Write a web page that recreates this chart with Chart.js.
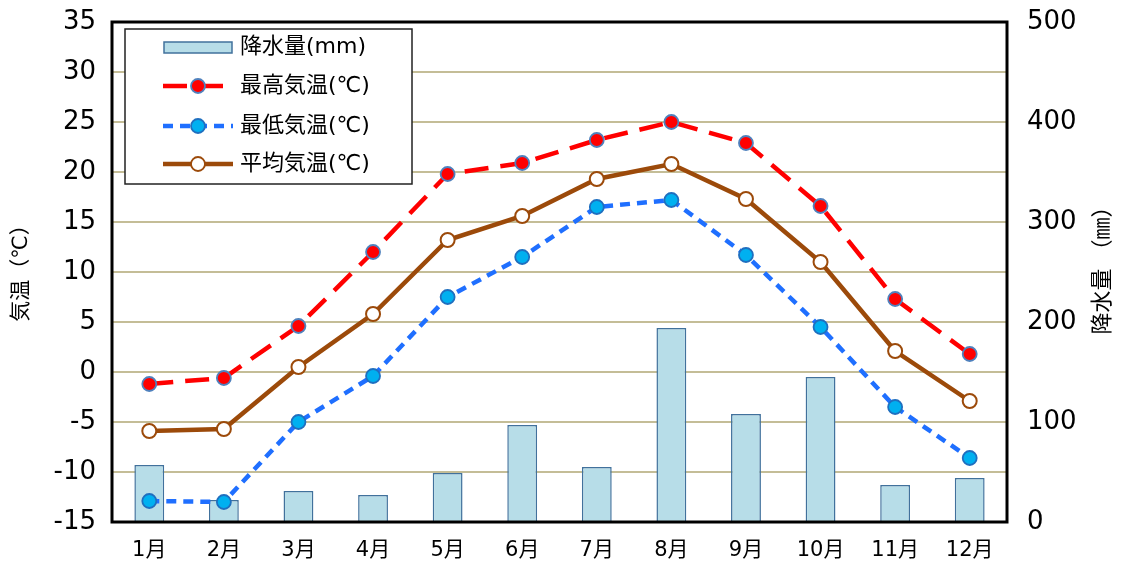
<!DOCTYPE html>
<html>
<head>
<meta charset="utf-8">
<script src="https://cdn.jsdelivr.net/npm/chart.js@4.4.1/dist/chart.umd.min.js"></script>
<style>
  html, body { margin: 0; padding: 0; background: #fff; }
  #wrap { width: 1124px; height: 564px; position: relative; }
</style>
</head>
<body>
<div id="wrap"><canvas id="myChart" width="1124" height="564"></canvas></div>
<script>
// data
var months = ['1月', '2月', '3月', '4月', '5月', '6月', '7月', '8月', '9月', '10月', '11月', '12月'];
var rain = [57, 22, 31, 27, 49, 97, 55, 194, 108, 145, 37, 44];
var maxTemp = [-1.2, -0.6, 4.6, 12.0, 19.8, 20.9, 23.2, 25.0, 22.9, 16.6, 7.3, 1.8];
var minTemp = [-12.9, -13.0, -5.0, -0.4, 7.5, 11.5, 16.5, 17.2, 11.7, 4.5, -3.5, -8.6];
var avgTemp = [-5.9, -5.7, 0.5, 5.8, 13.2, 15.6, 19.3, 20.8, 17.3, 11.0, 2.1, -2.9];

var FONT = "'DejaVu Sans', 'Noto Sans CJK JP', sans-serif";

// legend, frame and axis titles drawn by hand
var extras = {
    id: 'extras',
    afterDatasetsDraw: function(chart) {
        var c = chart.ctx, a = chart.chartArea;
        c.save();
        c.strokeStyle = '#000';
        c.lineWidth = 3;
        c.strokeRect(a.left, a.top, a.right - a.left, a.bottom - a.top);
        c.restore();
    },
    afterDraw: function(chart) {
        var c = chart.ctx;
        c.save();
        // axis titles
        c.fillStyle = '#000';
        c.font = '21px ' + FONT;
        c.textAlign = 'center';
        c.textBaseline = 'middle';
        c.save(); c.translate(22, 268); c.rotate(-Math.PI / 2); c.fillText('気温（℃）', 0, 0); c.restore();
        c.font = '22px ' + FONT;
        c.save(); c.translate(1103, 265); c.rotate(-Math.PI / 2); c.fillText('降水量 （㎜）', 0, 0); c.restore();

        // legend box
        c.fillStyle = '#fff';
        c.fillRect(125, 29, 287, 155);
        c.strokeStyle = '#222';
        c.lineWidth = 1.5;
        c.strokeRect(125, 29, 287, 155);

        // bar sample
        c.fillStyle = '#b7dde8';
        c.fillRect(164, 42, 68, 11);
        c.strokeStyle = '#41719c';
        c.lineWidth = 1.5;
        c.strokeRect(164, 42, 68, 11);

        var rows = [
            { y: 86, color: '#ff0000', dash: [24, 12], fill: '#ff0000', border: '#4f81bd' },
            { y: 126, color: '#1f6fff', dash: [10, 7], fill: '#00b0f0', border: '#1f6fbf' },
            { y: 164, color: '#9c4a0a', dash: [], fill: '#ffffff', border: '#9c4a0a' }
        ];
        rows.forEach(function(r) {
            c.strokeStyle = r.color;
            c.lineWidth = 4.5;
            c.setLineDash(r.dash);
            c.beginPath(); c.moveTo(163, r.y); c.lineTo(233, r.y); c.stroke();
            c.setLineDash([]);
            c.beginPath(); c.arc(198, r.y, 7, 0, Math.PI * 2);
            c.fillStyle = r.fill; c.fill();
            c.lineWidth = 1.8; c.strokeStyle = r.border; c.stroke();
        });

        c.fillStyle = '#000';
        c.font = '22px ' + FONT;
        c.textAlign = 'left';
        c.textBaseline = 'middle';
        c.fillText('降水量(mm)', 240, 47);
        c.fillText('最高気温(℃)', 240, 86);
        c.fillText('最低気温(℃)', 240, 126);
        c.fillText('平均気温(℃)', 240, 164);
        c.restore();
    }
};

function fitY(w) {
    return function(s) {
        s.width = w;
        s.paddingTop = 0;
        s.paddingBottom = 0;
    };
}

var ctx = document.getElementById('myChart').getContext('2d');

var myChart = new Chart(ctx, {
    data: {
        labels: months,
        datasets: [{
            type: 'line',
            label: '最高気温(℃)',
            data: maxTemp,
            yAxisID: 'y',
            borderColor: '#ff0000',
            borderWidth: 4.5,
            borderDash: [24, 12],
            pointRadius: 7,
            pointBackgroundColor: '#ff0000',
            pointBorderColor: '#4f81bd',
            pointBorderWidth: 1.8,
            tension: 0,
            order: 1
        }, {
            type: 'line',
            label: '平均気温(℃)',
            data: avgTemp,
            yAxisID: 'y',
            borderColor: '#9c4a0a',
            borderWidth: 4.5,
            pointRadius: 7,
            pointBackgroundColor: '#ffffff',
            pointBorderColor: '#9c4a0a',
            pointBorderWidth: 2,
            tension: 0,
            order: 2
        }, {
            type: 'line',
            label: '最低気温(℃)',
            data: minTemp,
            yAxisID: 'y',
            borderColor: '#1f6fff',
            borderWidth: 4.5,
            borderDash: [10, 7],
            pointRadius: 7,
            pointBackgroundColor: '#00b0f0',
            pointBorderColor: '#1f6fbf',
            pointBorderWidth: 1.8,
            tension: 0,
            order: 3
        }, {
            type: 'bar',
            label: '降水量(mm)',
            data: rain,
            yAxisID: 'y1',
            backgroundColor: '#b7dde8',
            borderColor: '#41719c',
            borderWidth: 1.5,
            barPercentage: 0.4,
            categoryPercentage: 1,
            order: 4
        }]
    },
    options: {
        responsive: false,
        animation: false,
        layout: { padding: { top: 22, left: 0, right: 0, bottom: 0 } },
        plugins: {
            legend: { display: false },
            tooltip: { enabled: false }
        },
        scales: {
            x: {
                grid: { display: false, drawTicks: false },
                border: { display: false },
                ticks: { color: '#000', font: { size: 21, family: FONT }, padding: 16 },
                afterFit: function(s) { s.height = 42; }
            },
            y: {
                position: 'left',
                min: -15, max: 35,
                ticks: { stepSize: 5, color: '#000', font: { size: 26, family: FONT }, padding: 16 },
                grid: { color: '#c4bd97', lineWidth: 2, drawTicks: false },
                border: { display: false },
                afterFit: fitY(112)
            },
            y1: {
                position: 'right',
                min: 0, max: 500,
                ticks: { stepSize: 100, color: '#000', font: { size: 26, family: FONT }, padding: 20 },
                grid: { display: false, drawTicks: false },
                border: { display: false },
                afterFit: fitY(117)
            }
        }
    },
    plugins: [extras]
});
</script>
</body>
</html>
